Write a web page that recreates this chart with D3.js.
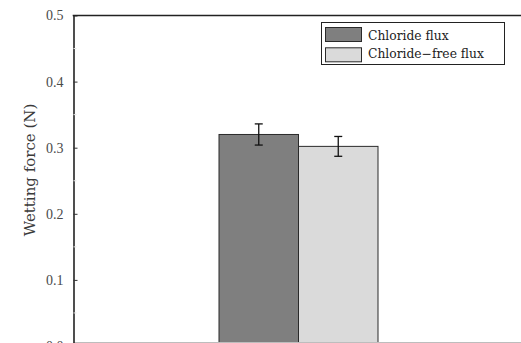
<!DOCTYPE html>
<html>
<head>
<meta charset="utf-8">
<script src="https://cdn.jsdelivr.net/npm/d3@7"></script>
<style>
  html, body { margin: 0; padding: 0; background: #fff; }
  svg { display: block; }
  text { font-family: "DejaVu Serif", "Liberation Serif", serif; }
</style>
</head>
<body>
<svg id="chart" width="521" height="343"></svg>
<script>
// Wetting force by flux type, with standard-deviation error bars
const seriesNames = ["Chloride flux", "Chloride-free flux"];
const seriesValues = [0.320, 0.302];
const seriesErrors = [0.016, 0.015];
const seriesColors = ["#7f7f7f", "#dadada"];
const yTicks = [0.0, 0.1, 0.2, 0.3, 0.4, 0.5];
const yMinorTicks = [0.05, 0.15, 0.25, 0.35, 0.45];
const yLabel = "Wetting force (N)";

const svg = d3.select("#chart");
const plotLeft = 73.5, plotTop = 15.5, plotBottom = 346;

const y = d3.scaleLinear().domain([0, 0.5]).range([plotBottom, plotTop]);
const x = d3.scaleBand().domain(seriesNames).range([219, 378]).padding(0);

// Bars
svg.append("g").selectAll("rect")
  .data(seriesNames)
  .join("rect")
  .attr("x", d => x(d))
  .attr("y", (d, i) => y(seriesValues[i]))
  .attr("width", x.bandwidth())
  .attr("height", (d, i) => plotBottom - y(seriesValues[i]))
  .attr("fill", (d, i) => seriesColors[i])
  .attr("stroke", "#2a2a2a")
  .attr("stroke-width", 1);

// Error bars
const eb = svg.append("g").attr("stroke", "#111").attr("stroke-width", 1.3);
seriesNames.forEach((d, i) => {
  const cx = x(d) + x.bandwidth() / 2;
  const hi = y(seriesValues[i] + seriesErrors[i]);
  const lo = y(seriesValues[i] - seriesErrors[i]);
  eb.append("line").attr("x1", cx).attr("x2", cx).attr("y1", hi).attr("y2", lo);
  eb.append("line").attr("x1", cx - 4).attr("x2", cx + 4).attr("y1", hi).attr("y2", hi);
  eb.append("line").attr("x1", cx - 4).attr("x2", cx + 4).attr("y1", lo).attr("y2", lo);
});

// Light baseline at the lower edge
svg.append("line")
  .attr("x1", plotLeft).attr("x2", 521)
  .attr("y1", 342.5).attr("y2", 342.5)
  .attr("stroke", "#bdbdbd").attr("stroke-width", 1.2);

// Left axis
const yAxis = d3.axisLeft(y).tickValues(yTicks).tickFormat(d3.format(".1f"))
  .tickSizeInner(-4).tickSizeOuter(0).tickPadding(10);
const gy = svg.append("g").attr("transform", `translate(${plotLeft},0)`).call(yAxis);
gy.select(".domain").attr("stroke", "#222").attr("stroke-width", 1.6);
gy.selectAll(".tick line").attr("stroke", "#333").attr("stroke-width", 1);
gy.selectAll(".tick text")
  .attr("fill", "#4a4a4a")
  .style("font-size", "14px")
  .style("font-family", "'Liberation Serif', 'DejaVu Serif', serif");

// Minor ticks
svg.append("g").selectAll("line")
  .data(yMinorTicks)
  .join("line")
  .attr("x1", plotLeft).attr("x2", plotLeft + 3)
  .attr("y1", d => y(d)).attr("y2", d => y(d))
  .attr("stroke", "#e6e6e6").attr("stroke-width", 1);

// Top frame line
svg.append("line")
  .attr("x1", plotLeft - 0.8).attr("x2", 521)
  .attr("y1", plotTop).attr("y2", plotTop)
  .attr("stroke", "#222").attr("stroke-width", 1.6);

// Y axis title
svg.append("text")
  .attr("transform", "translate(35,170) rotate(-90)")
  .attr("text-anchor", "middle")
  .attr("fill", "#3a3a3a")
  .style("font-size", "15px")
  .text(yLabel);

// Legend
const lg = svg.append("g");
lg.append("rect")
  .attr("x", 321.5).attr("y", 22.5).attr("width", 183).attr("height", 42)
  .attr("fill", "#fff").attr("stroke", "#222").attr("stroke-width", 1);
seriesNames.forEach((d, i) => {
  const yy = 27.5 + i * 20.3;
  lg.append("rect")
    .attr("x", 325.5).attr("y", yy).attr("width", 36).attr("height", 14)
    .attr("fill", seriesColors[i]).attr("stroke", "#2a2a2a").attr("stroke-width", 1);
  lg.append("text")
    .attr("x", 368).attr("y", 40 + i * 18)
    .attr("fill", "#222")
    .style("font-size", "12.3px")
    .text(d === "Chloride-free flux" ? "Chloride\u2212free flux" : d);
});
</script>
</body>
</html>
